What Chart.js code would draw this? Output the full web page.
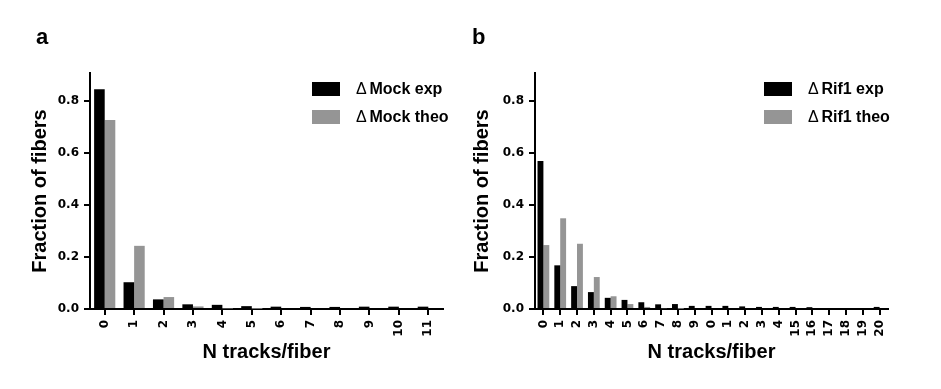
<!DOCTYPE html>
<html>
<head>
<meta charset="utf-8">
<script src="https://cdn.jsdelivr.net/npm/chart.js@4.4.1/dist/chart.umd.min.js"></script>
<style>
  body { margin: 0; background: #fff; }
  #wrap { position: relative; width: 941px; height: 389px; }
  .panel { position: absolute; top: 0; height: 389px; }
  .tag { position: absolute; font: bold 22px 'Liberation Sans', Arial, sans-serif; line-height: 22px; }
</style>
</head>
<body>
<div id="wrap">
  <div class="panel" style="left:0;width:470px"><canvas id="chartA" width="470" height="389"></canvas></div>
  <div class="panel" style="left:470px;width:471px"><canvas id="chartB" width="471" height="389"></canvas></div>
  <div class="tag" style="left:36px;top:26px">a</div>
  <div class="tag" style="left:472px;top:26px">b</div>
</div>
<script>
const catsA = ['0', '1', '2', '3', '4', '5', '6', '7', '8', '9', '10', '11'];
const mockExp = [0.845, 0.103, 0.037, 0.018, 0.016, 0.011, 0.009, 0.008, 0.008, 0.009, 0.009, 0.009];
const mockTheo = [0.727, 0.243, 0.046, 0.010, 0.002, 0.001, 0, 0, 0, 0, 0, 0];

// labels 10-14 lost their leading digit in the original figure
const catsB = ['0', '1', '2', '3', '4', '5', '6', '7', '8', '9', '0', '1', '2', '3', '4', '15', '16', '17', '18', '19', '20'];
const rifExp = [0.569, 0.168, 0.088, 0.065, 0.043, 0.035, 0.026, 0.018, 0.019, 0.012, 0.012, 0.012, 0.010, 0.008, 0.008, 0.008, 0.007, 0, 0, 0, 0.008];
const rifTheo = [0.246, 0.349, 0.251, 0.123, 0.049, 0.019, 0.008, 0.003, 0.001, 0, 0, 0, 0, 0, 0, 0, 0, 0, 0, 0, 0];

const yTicks = [0, 0.2, 0.4, 0.6, 0.8];

Chart.defaults.font.family = "'Liberation Sans', Arial, sans-serif";
Chart.defaults.color = '#000';

// legend drawn inside the plot, boxes on the left, delta sign in a lighter face
const boxLegend = {
    id: 'boxLegend',
    afterDraw(chart, args, opts) {
        const ctx = chart.ctx;
        ctx.save();
        chart.data.datasets.forEach((ds, i) => {
            const y = opts.top + i * opts.step;
            ctx.fillStyle = ds.backgroundColor;
            ctx.fillRect(opts.left, y, 28, 14);
            ctx.fillStyle = '#000';
            ctx.textBaseline = 'middle';
            ctx.textAlign = 'left';
            ctx.font = "16px 'Liberation Sans', Arial, sans-serif";
            ctx.fillText(ds.label.charAt(0), opts.textLeft, y + 8);
            ctx.font = "bold 16px 'Liberation Sans', Arial, sans-serif";
            ctx.fillText(ds.label.slice(1), opts.textLeft + 9, y + 8);
        });
        ctx.restore();
    }
};

function makeChart(id, cats, exp, theo, names, layout) {
    const ctx = document.getElementById(id).getContext('2d');
    return new Chart(ctx, {
        type: 'bar',
        data: {
            labels: cats,
            datasets: [
                { label: names[0], data: exp, backgroundColor: '#000000', categoryPercentage: layout.catPct, barPercentage: 1 },
                { label: names[1], data: theo, backgroundColor: '#959595', categoryPercentage: layout.catPct, barPercentage: 1 }
            ]
        },
        options: {
            responsive: false,
            animation: false,
            layout: { padding: { top: 73, right: layout.right, left: layout.left, bottom: 25 } },
            plugins: {
                legend: { display: false },
                tooltip: { enabled: false },
                boxLegend: layout.legend
            },
            scales: {
                x: {
                    grid: { drawOnChartArea: false, offset: false, color: '#000', lineWidth: 2, tickLength: 6 },
                    border: { color: '#000', width: 2 },
                    ticks: {
                        autoSkip: false, minRotation: 90, maxRotation: 90, padding: 5,
                        font: { family: "'DejaVu Sans', sans-serif", weight: 'bold', size: 12 }
                    },
                    title: {
                        display: true, text: 'N tracks/fiber', padding: 0,
                        font: { size: 20, weight: 'bold' }
                    },
                    afterFit: s => { s.height = 55; }
                },
                y: {
                    min: 0, max: 0.908,
                    afterBuildTicks: s => { s.ticks = yTicks.map(v => ({ value: v })); },
                    grid: { drawOnChartArea: false, color: '#000', lineWidth: 2, tickLength: 6 },
                    border: { color: '#000', width: 2 },
                    ticks: {
                        padding: 5,
                        callback: v => v.toFixed(1),
                        font: { family: "'DejaVu Sans', sans-serif", weight: 'bold', size: 12 }
                    },
                    title: {
                        display: true, text: 'Fraction of fibers', padding: 0,
                        font: { size: 20, weight: 'bold' }
                    },
                    afterFit: s => { s.width = layout.yWidth; }
                }
            }
        },
        plugins: [boxLegend]
    });
}

makeChart('chartA', catsA, mockExp, mockTheo, ['\u0394 Mock exp', '\u0394 Mock theo'], {
    left: 28, right: 27, yWidth: 62, catPct: 0.72,
    legend: { left: 312, top: 82, step: 28, textLeft: 356 }
});

makeChart('chartB', catsB, rifExp, rifTheo, ['\u0394 Rif1 exp', '\u0394 Rif1 theo'], {
    left: 0, right: 53, yWidth: 65, catPct: 0.7,
    legend: { left: 294, top: 82, step: 28, textLeft: 338 }
});
</script>
</body>
</html>
